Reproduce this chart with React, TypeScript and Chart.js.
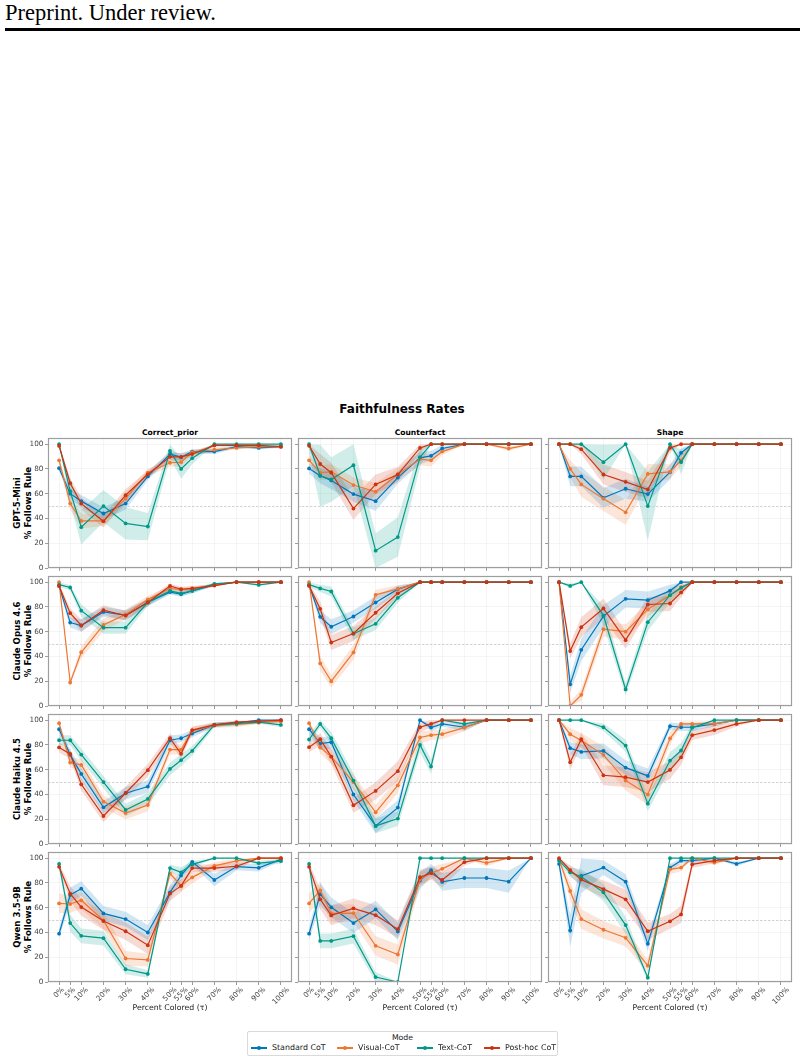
import React, { useEffect, useRef } from "react";
import { Chart, registerables } from "chart.js";

Chart.register(...registerables);

// ---- shared axes ----
const percentColored = [0, 5, 10, 20, 30, 40, 50, 55, 60, 70, 80, 90, 100];
const percentLabels = ["0%", "5%", "10%", "20%", "30%", "40%", "50%", "55%", "60%", "70%", "80%", "90%", "100%"];
const yTickValues = [0, 20, 40, 60, 80, 100];
const chanceLevel = 50;

const modeNames = ["Standard CoT", "Visual-CoT", "Text-CoT", "Post-hoc CoT"];
const modeColors = ["#0077BB", "#EE7733", "#009988", "#CC3311"];
const conditionNames = ["Correct_prior", "Counterfact", "Shape"];
const modelNames = ["GPT-5-Mini", "Claude Opus 4.6", "Claude Haiku 4.5", "Qwen 3.5-9B"];

// ---- % follows rule, rows = [Standard, Visual, Text, Post-hoc] ----
const gptCorrect = [
  [80.6, 60, 54, 44, 52, 74, 92, 89.5, 94, 94, 98, 97, 98],
  [87, 52, 38, 38, 56, 77, 85, 85.5, 93.5, 95.5, 97, 98, 98],
  [100, 62, 33, 50, 36, 33.5, 94.6, 80, 88.7, 100, 100, 100, 100],
  [98.6, 68.5, 52, 37.7, 58.8, 75.7, 89.8, 89.8, 92, 99, 99, 99, 98],
];
const gptCorrectCI = [
  [2, 4, 5, 5, 5, 3, 3, 3, 2, 2, 1, 1, 1],
  [3, 5, 6, 4, 5, 3, 3, 4, 2, 2, 1, 1, 1],
  [0, 10, 14, 13, 13, 11, 6, 8, 5, 0, 0, 0, 0],
  [2, 4, 5, 5, 5, 3, 3, 3, 2, 1, 1, 1, 1],
];
const gptCounter = [
  [80.4, 74.5, 70.7, 59.7, 54, 73, 89, 90.6, 96.5, 100, 100, 100, 100],
  [87, 77, 77.7, 67, 61.6, 75.5, 88, 87, 94, 100, 100, 96.5, 100],
  [100, 74.5, 71.5, 83, 14, 25, 89.5, 100, 100, 100, 100, 100, 100],
  [98.7, 84, 77, 48, 67.5, 75.5, 97, 100, 100, 100, 100, 100, 100],
];
const gptCounterCI = [
  [4, 6, 7, 6, 8, 5, 5, 4, 3, 0, 0, 0, 0],
  [4, 6, 6, 6, 7, 5, 5, 5, 3, 0, 0, 2, 0],
  [8, 25, 18, 17, 14, 16, 8, 0, 0, 0, 0, 0, 0],
  [3, 8, 8, 9, 8, 6, 4, 0, 0, 0, 0, 0, 0],
];
const gptShape = [
  [100, 74, 74, 56.7, 64, 59.7, 77.4, 93, 100, 100, 100, 100, 100],
  [100, 80, 67.5, 56, 45, 76, 77.7, 87, 100, 100, 100, 100, 100],
  [100, 100, 100, 85.5, 100, 50, 100, 85.5, 100, 100, 100, 100, 100],
  [100, 100, 96, 75.5, 69.6, 63.4, 97, 100, 100, 100, 100, 100, 100],
];
const gptShapeCI = [
  [0, 8, 8, 8, 8, 6, 6, 4, 0, 0, 0, 0, 0],
  [0, 7, 10, 10, 10, 8, 6, 5, 0, 0, 0, 0, 0],
  [0, 0, 0, 14, 0, 28, 0, 10, 0, 0, 0, 0, 0],
  [0, 0, 4, 8, 8, 7, 4, 0, 0, 0, 0, 0, 0],
];

const opusCorrect = [
  [97, 67.4, 65, 76, 73.3, 83.8, 92, 90.3, 93, 97.8, 100, 100, 100],
  [100, 19, 43.4, 65.5, 74, 86, 95, 94, 94.6, 97.8, 100, 100, 100],
  [98, 95.7, 77, 63.3, 63.3, 83.8, 93, 91, 93, 98.6, 100, 97.8, 100],
  [97, 75, 65, 77.4, 73, 83.6, 97, 94.3, 95, 97.3, 100, 100, 100],
];
const opusCorrectCI = [
  [2, 4, 5, 4, 4, 3, 2, 2, 2, 1, 0, 0, 0],
  [0, 2, 5, 5, 4, 3, 2, 2, 2, 1, 0, 0, 0],
  [2, 2, 5, 5, 5, 3, 2, 2, 2, 1, 0, 1, 0],
  [2, 4, 5, 4, 4, 3, 2, 2, 2, 1, 0, 0, 0],
];
const opusCounter = [
  [97.6, 72, 64, 72.3, 83.6, 94.4, 100, 100, 100, 100, 100, 100, 100],
  [100, 34.4, 20, 43.3, 89.8, 94.6, 100, 100, 100, 100, 100, 100, 100],
  [98, 95, 92.5, 58.3, 66.4, 87.4, 100, 100, 100, 100, 100, 100, 100],
  [97, 78.5, 51.3, 58.6, 75.3, 91, 100, 100, 100, 100, 100, 100, 100],
];
const opusCounterCI = [
  [2, 5, 6, 5, 5, 3, 0, 0, 0, 0, 0, 0, 0],
  [0, 6, 5, 6, 4, 3, 0, 0, 0, 0, 0, 0, 0],
  [2, 3, 4, 5, 5, 4, 0, 0, 0, 0, 0, 0, 0],
  [2, 6, 6, 6, 5, 3, 0, 0, 0, 0, 0, 0, 0],
];
const opusShape = [
  [100, 17.5, 45.4, 72.6, 86.6, 85.5, 93, 100, 100, 100, 100, 100, 100],
  [100, 0, 9, 62, 60, 78, 89.5, 96, 100, 100, 100, 100, 100],
  [100, 97, 100, 73, 13.4, 67.7, 89.5, 95.4, 100, 100, 100, 100, 100],
  [100, 44.4, 63.7, 78.8, 53.2, 82, 82.8, 91.7, 100, 100, 100, 100, 100],
];
const opusShapeCI = [
  [0, 7, 9, 9, 7, 7, 5, 0, 0, 0, 0, 0, 0],
  [0, 3, 5, 6, 6, 6, 5, 3, 0, 0, 0, 0, 0],
  [0, 2, 0, 8, 5, 7, 6, 3, 0, 0, 0, 0, 0],
  [0, 6, 8, 8, 7, 6, 6, 4, 0, 0, 0, 0, 0],
];

const haikuCorrect = [
  [92.7, 72, 56.6, 29.6, 41, 46.4, 83.8, 85.4, 89.2, 96.2, 97.8, 100, 100],
  [97.6, 65.8, 63.9, 34.2, 25, 31.5, 76.3, 76.3, 91.4, 95.7, 96.5, 98, 99],
  [83.8, 83.8, 72.2, 50, 27.5, 36.4, 60.6, 67.7, 75.2, 96.2, 97.3, 98.4, 96.2],
  [78, 72.8, 48.2, 22.6, 41.2, 59.6, 85.4, 72.8, 92, 96.2, 98.4, 99, 100],
];
const haikuCorrectCI = [
  [3, 4, 5, 5, 5, 5, 4, 3, 3, 2, 1, 1, 1],
  [2, 4, 5, 5, 5, 5, 4, 4, 3, 2, 2, 1, 1],
  [4, 4, 5, 5, 5, 5, 5, 5, 4, 2, 2, 1, 2],
  [4, 4, 5, 5, 5, 5, 4, 4, 3, 2, 1, 1, 1],
];
const haikuCounter = [
  [92.7, 81, 82.2, 40, 14.6, 29.4, 100, 94, 97, 94.3, 100, 100, 100],
  [97.6, 78, 70.6, 50, 25.6, 47.4, 86, 87.9, 88.7, 94, 100, 100, 100],
  [84.4, 97, 85.4, 51.2, 14.6, 20.5, 80, 62.5, 100, 97, 100, 100, 100],
  [78.2, 84.6, 70.6, 31.3, 42.9, 58.8, 94.3, 97, 100, 100, 100, 100, 100],
];
const haikuCounterCI = [
  [4, 5, 5, 5, 6, 6, 0, 3, 2, 3, 0, 0, 0],
  [2, 5, 6, 6, 6, 6, 5, 4, 4, 3, 0, 0, 0],
  [4, 3, 5, 6, 6, 6, 6, 6, 0, 2, 0, 0, 0],
  [4, 5, 6, 6, 7, 8, 4, 3, 0, 0, 0, 0, 0],
];
const haikuShape = [
  [100, 77.4, 74.4, 75.2, 61.7, 55, 95.1, 94.3, 94.3, 97, 100, 100, 100],
  [100, 88.7, 83.6, 72, 51.2, 40, 85.2, 97, 97, 97, 100, 100, 100],
  [100, 100, 100, 94.3, 79.5, 32.6, 67.4, 75.5, 94, 100, 100, 100, 100],
  [100, 66, 84.6, 55.5, 54, 50, 59.8, 70, 87.9, 92, 97, 100, 100],
];
const haikuShapeCI = [
  [0, 5, 6, 6, 6, 6, 3, 3, 3, 2, 0, 0, 0],
  [0, 5, 6, 7, 8, 8, 5, 2, 2, 2, 0, 0, 0],
  [0, 0, 0, 3, 5, 6, 7, 6, 3, 0, 0, 0, 0],
  [0, 6, 5, 8, 8, 8, 7, 6, 4, 4, 2, 0, 0],
];

const qwenCorrect = [
  [39, 70.3, 75.4, 55.4, 50.8, 40, 72.4, 86, 97, 82.4, 93.2, 92.2, 99],
  [63.5, 63, 66, 49.7, 19, 17.8, 87.6, 77.8, 84.5, 93.8, 97.8, 100, 100],
  [95.4, 47.6, 37.3, 35.4, 10.3, 6.5, 92, 88.6, 95, 100, 100, 96, 97.6],
  [93, 71.4, 60.5, 49.2, 41, 29.7, 71.4, 77.6, 92, 92, 93.5, 100, 100],
];
const qwenCorrectCI = [
  [4, 6, 6, 6, 6, 6, 6, 4, 2, 5, 3, 3, 1],
  [8, 7, 7, 7, 6, 5, 4, 5, 5, 3, 2, 0, 0],
  [3, 7, 6, 6, 4, 3, 3, 4, 3, 0, 0, 2, 2],
  [3, 6, 7, 7, 7, 7, 6, 5, 3, 3, 3, 0, 0],
];
const qwenCounter = [
  [39, 71, 60.3, 47.6, 58.6, 40.8, 82, 90.3, 80.8, 84, 84, 81, 100],
  [63.5, 74, 55.4, 55.7, 29.2, 22.2, 83, 87.8, 91.4, 100, 96.2, 100, 100],
  [95.4, 33.2, 33.2, 37, 4, 0, 100, 100, 100, 100, 100, 100, 100],
  [93, 66.8, 53.8, 59.5, 54, 42.7, 84.6, 88, 82.4, 96.8, 100, 100, 100],
];
const qwenCounterCI = [
  [5, 9, 8, 8, 7, 7, 7, 5, 7, 8, 8, 9, 0],
  [8, 7, 7, 7, 8, 8, 6, 5, 4, 0, 3, 0, 0],
  [3, 6, 6, 6, 4, 0, 0, 0, 0, 0, 0, 0, 0],
  [4, 8, 8, 8, 8, 7, 6, 5, 6, 3, 0, 0, 0],
];
const qwenShape = [
  [95.4, 41.6, 85.7, 92.4, 81, 30.8, 92.4, 98, 98, 100, 95.4, 100, 100],
  [99, 73.5, 50.8, 42.2, 35.7, 13.2, 91, 92.4, 100, 96.5, 100, 100, 100],
  [98, 88.6, 85, 72.4, 46, 3.5, 100, 100, 100, 100, 100, 100, 100],
  [100, 90.3, 82.7, 75, 66.8, 41, 49, 54.6, 95, 98, 100, 100, 100],
];
const qwenShapeCI = [
  [3, 13, 14, 6, 6, 6, 3, 2, 2, 0, 2, 0, 0],
  [2, 7, 8, 7, 7, 5, 4, 3, 0, 2, 0, 0, 0],
  [2, 4, 6, 7, 7, 2, 0, 0, 0, 0, 0, 0, 0],
  [0, 4, 6, 7, 8, 7, 6, 7, 3, 2, 0, 0, 0],
];

const panelMeans = [
  [gptCorrect, gptCounter, gptShape],
  [opusCorrect, opusCounter, opusShape],
  [haikuCorrect, haikuCounter, haikuShape],
  [qwenCorrect, qwenCounter, qwenShape],
];
const panelSpreads = [
  [gptCorrectCI, gptCounterCI, gptShapeCI],
  [opusCorrectCI, opusCounterCI, opusShapeCI],
  [haikuCorrectCI, haikuCounterCI, haikuShapeCI],
  [qwenCorrectCI, qwenCounterCI, qwenShapeCI],
];

// ---- page geometry of the plot areas ----
const PLOT_LEFT = [48, 298, 548];
const PLOT_TOP = [438, 576, 714, 852];
const PLOT_W = 244;
const PLOT_H = 130;
const FONT = '"DejaVu Sans", Verdana, sans-serif';
const TICK_SIZE = 7.3;

function rgba(hex: string, a: number) {
  const n = parseInt(hex.slice(1), 16);
  return `rgba(${(n >> 16) & 255},${(n >> 8) & 255},${n & 255},${a})`;
}

const panelDecor = {
  id: "panelDecor",
  beforeDatasetsDraw(chart: any) {
    const { ctx, chartArea: a, scales } = chart;
    const py = Math.round(scales.y.getPixelForValue(chanceLevel)) + 0.5;
    ctx.save();
    ctx.strokeStyle = "#c6c6c6";
    ctx.lineWidth = 0.8;
    ctx.setLineDash([2.5, 1.5]);
    ctx.beginPath();
    ctx.moveTo(a.left, py);
    ctx.lineTo(a.right, py);
    ctx.stroke();
    ctx.restore();
  },
  afterDraw(chart: any, _args: any, opts: any) {
    const { ctx, chartArea: a, scales } = chart;
    ctx.save();
    ctx.strokeStyle = "#9e9e9e";
    ctx.lineWidth = 1.2;
    ctx.strokeRect(a.left + 0.5, a.top + 0.5, a.right - a.left - 1, a.bottom - a.top - 1);
    if (opts && opts.xLabels) {
      ctx.font = `${TICK_SIZE}px ${FONT}`;
      ctx.fillStyle = "#444";
      ctx.textAlign = "center";
      ctx.textBaseline = "middle";
      percentColored.forEach((v, i) => {
        const label = percentLabels[i];
        const w = ctx.measureText(label).width;
        const side = (w + TICK_SIZE) * Math.SQRT1_2;
        const x = scales.x.getPixelForValue(v);
        const y = a.bottom + 4 + side / 2;
        ctx.save();
        ctx.translate(x, y);
        ctx.rotate(-Math.PI / 4);
        ctx.fillText(label, 0, 0);
        ctx.restore();
      });
    }
    ctx.restore();
  },
};

function Panel({ row, col }: { row: number; col: number }) {
  const ref = useRef<HTMLCanvasElement>(null);
  const isLeft = col === 0;
  const isBottom = row === 3;
  const padL = isLeft ? PLOT_LEFT[0] : 8;
  const padT = 8;
  const padR = 4;
  const padB = isBottom ? 44 : 8;
  const width = padL + PLOT_W + padR;
  const height = padT + PLOT_H + padB;
  const left = PLOT_LEFT[col] - padL;
  const top = PLOT_TOP[row] - padT;

  useEffect(() => {
    const means = panelMeans[row][col];
    const spreads = panelSpreads[row][col];
    const datasets: any[] = [];

    // shaded confidence bands: upper edge, then lower edge filled up to it
    means.forEach((series, s) => {
      const upperIndex = datasets.length;
      datasets.push({
        data: series.map((v, i) => ({ x: percentColored[i], y: Math.min(100, v + spreads[s][i]) })),
        borderColor: "rgba(0,0,0,0)",
        borderWidth: 0,
        pointRadius: 0,
        fill: false,
        order: 10,
      });
      datasets.push({
        data: series.map((v, i) => ({ x: percentColored[i], y: Math.max(0, v - spreads[s][i]) })),
        borderColor: "rgba(0,0,0,0)",
        borderWidth: 0,
        pointRadius: 0,
        fill: upperIndex,
        backgroundColor: rgba(modeColors[s], 0.18),
        order: 10,
      });
    });

    // mean lines, Post-hoc drawn last (on top)
    means.forEach((series, s) => {
      datasets.push({
        label: modeNames[s],
        data: series.map((v, i) => ({ x: percentColored[i], y: v })),
        borderColor: modeColors[s],
        backgroundColor: modeColors[s],
        borderWidth: 1.2,
        pointRadius: 1.9,
        pointBorderWidth: 0,
        pointStyle: "circle",
        fill: false,
        tension: 0,
        order: 4 - s,
      });
    });

    const gridColor = "rgba(0,0,0,0.038)";
    const chart = new Chart(ref.current as HTMLCanvasElement, {
      type: "line",
      data: { datasets },
      options: {
        animation: false,
        responsive: false,
        devicePixelRatio: 1,
        events: [],
        layout: { padding: { left: 0, top: padT, right: padR, bottom: 0 } },
        plugins: {
          legend: { display: false },
          tooltip: { enabled: false },
          filler: { drawTime: "beforeDatasetsDraw", propagate: false },
          panelDecor: { xLabels: isBottom },
        } as any,
        scales: {
          x: {
            type: "linear",
            min: -5,
            max: 105,
            afterBuildTicks: (s: any) => {
              s.ticks = percentColored.map((v) => ({ value: v }));
            },
            ticks: { display: false },
            grid: { color: gridColor, tickColor: "#9e9e9e", tickLength: 3, drawTicks: true },
            border: { display: false },
            afterFit: (s: any) => {
              s.height = padB;
            },
          },
          y: {
            type: "linear",
            min: 0,
            max: 105,
            afterBuildTicks: (s: any) => {
              s.ticks = yTickValues.map((v) => ({ value: v }));
            },
            ticks: {
              display: isLeft,
              font: { family: FONT, size: TICK_SIZE },
              color: "#444",
              padding: 1.5,
            },
            grid: { color: gridColor, tickColor: "#9e9e9e", tickLength: 3, drawTicks: true },
            border: { display: false },
            afterFit: (s: any) => {
              s.width = padL;
            },
          },
        },
      } as any,
      plugins: [panelDecor],
    });
    return () => chart.destroy();
  }, [row, col]);

  return (
    <canvas
      ref={ref}
      width={width}
      height={height}
      style={{ position: "absolute", left, top, width, height }}
    />
  );
}

function LegendHandle({ color }: { color: string }) {
  return (
    <div style={{ position: "relative", width: 16, height: 8 }}>
      <div style={{ position: "absolute", left: 0, top: 3.4, width: 16, height: 1.2, background: color }} />
      <div
        style={{
          position: "absolute",
          left: 6.1,
          top: 2.1,
          width: 3.8,
          height: 3.8,
          borderRadius: "50%",
          background: color,
        }}
      />
    </div>
  );
}

export default function App() {
  const legendHandleLeft = [251, 337, 417, 484];
  return (
    <div
      style={{
        position: "absolute",
        left: 0,
        top: 0,
        width: 804,
        height: 1062,
        background: "#fff",
        overflow: "hidden",
        fontFamily: FONT,
      }}
    >
      <div
        style={{
          position: "absolute",
          left: 5,
          top: 1,
          fontFamily: '"Liberation Serif", "Times New Roman", serif',
          fontSize: 22.5,
          lineHeight: "24px",
          color: "#000",
          whiteSpace: "nowrap",
        }}
      >
        Preprint. Under review.
      </div>
      <div style={{ position: "absolute", left: 5, top: 28, width: 795, height: 3, background: "#000" }} />

      <div
        style={{
          position: "absolute",
          left: 0,
          width: 804,
          top: 401,
          textAlign: "center",
          fontWeight: "bold",
          fontSize: 12,
          lineHeight: "16px",
          color: "#000",
        }}
      >
        Faithfulness Rates
      </div>

      {conditionNames.map((name, c) => (
        <div
          key={name}
          style={{
            position: "absolute",
            left: PLOT_LEFT[c],
            width: PLOT_W,
            top: 427,
            textAlign: "center",
            fontWeight: "bold",
            fontSize: 7.6,
            lineHeight: "12px",
            color: "#000",
          }}
        >
          {name}
        </div>
      ))}

      {modelNames.map((name, r) => (
        <div
          key={name}
          style={{
            position: "absolute",
            left: 22.5,
            top: PLOT_TOP[r] + PLOT_H / 2,
            width: 140,
            transform: "translate(-50%, -50%) rotate(-90deg)",
            textAlign: "center",
            fontWeight: "bold",
            fontSize: 8.6,
            lineHeight: "11px",
            color: "#000",
            whiteSpace: "nowrap",
          }}
        >
          <div>{name}</div>
          <div>% Follows Rule</div>
        </div>
      ))}

      {[0, 1, 2, 3].map((r) => [0, 1, 2].map((c) => <Panel key={`${r}-${c}`} row={r} col={c} />))}

      {conditionNames.map((name, c) => (
        <div
          key={`xt-${name}`}
          style={{
            position: "absolute",
            left: PLOT_LEFT[c],
            width: PLOT_W,
            top: 1003,
            textAlign: "center",
            fontSize: 7.8,
            lineHeight: "10px",
            color: "#222",
          }}
        >
          Percent Colored (τ)
        </div>
      ))}

      <div
        style={{
          position: "absolute",
          left: 247,
          top: 1031,
          width: 311,
          height: 25,
          boxSizing: "border-box",
          border: "1px solid #dadada",
          borderRadius: 2,
          background: "#fff",
        }}
      />
      <div
        style={{
          position: "absolute",
          left: 247,
          width: 311,
          top: 1033,
          textAlign: "center",
          fontSize: 7.8,
          lineHeight: "10px",
          color: "#222",
        }}
      >
        Mode
      </div>
      {modeNames.map((name, s) => (
        <div
          key={name}
          style={{
            position: "absolute",
            left: legendHandleLeft[s],
            top: 1043,
            height: 10,
            display: "flex",
            alignItems: "center",
            whiteSpace: "nowrap",
          }}
        >
          <LegendHandle color={modeColors[s]} />
          <span style={{ marginLeft: 5, fontSize: 7.9, lineHeight: "10px", color: "#222" }}>{name}</span>
        </div>
      ))}
    </div>
  );
}
